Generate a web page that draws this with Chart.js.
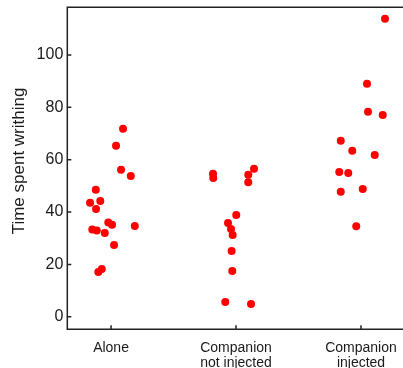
<!DOCTYPE html>
<html>
<head>
<meta charset="utf-8">
<script src="https://cdn.jsdelivr.net/npm/chart.js@4"></script>
<style>
  html, body { margin: 0; padding: 0; background: #fff; }
  #wrap { width: 403px; height: 368px; }
</style>
</head>
<body>
<div id="wrap"><canvas id="c"></canvas></div>
<script>
// Group labels (multi-line) along the x axis
const categories = [['Alone'], ['Companion', 'not injected'], ['Companion', 'injected']];
const yTitle = 'Time spent writhing';

// Jittered x position (group index + offset) and time spent writhing per animal
const aloneX = [0.096, 0.040, 0.080, 0.158, -0.122, -0.168, -0.086, -0.120, -0.022, 0.008, 0.190, -0.150, -0.114, -0.050, 0.024, -0.074, -0.102];
const aloneY = [71.8, 65.3, 56.1, 53.8, 48.5, 43.5, 44.2, 41.2, 36.0, 35.1, 34.7, 33.3, 32.9, 32.0, 27.4, 18.2, 17.1];

const notInjectedX = [0.816, 0.818, 1.144, 1.098, 1.098, 1.002, 0.936, 0.960, 0.973, 0.965, 0.970, 0.914, 1.120];
const notInjectedY = [54.6, 53.0, 56.5, 54.2, 51.4, 38.9, 35.8, 33.5, 31.2, 25.1, 17.5, 5.6, 4.9];

const injectedX = [2.192, 2.048, 2.056, 2.174, 1.838, 1.930, 2.110, 1.826, 1.898, 1.838, 2.014, 1.962];
const injectedY = [113.8, 89.0, 78.3, 77.1, 67.2, 63.4, 61.8, 55.3, 54.9, 47.7, 48.8, 34.6];

const yTicks = [0, 20, 40, 60, 80, 100];
const categoryTicks = [0, 1, 2];

const pairs = (xs, ys) => xs.map((x, i) => ({ x, y: ys[i] }));

const RED = '#ff0000';
const INK = '#1a1a1a';
const FONT = 'Liberation Sans, Arial, sans-serif';

// Axis frame (left, top, bottom) with short inward tick marks, plus the y-axis title
const framePlugin = {
  id: 'frame',
  afterDatasetsDraw(chart) {
    const { ctx, chartArea: a, scales } = chart;
    ctx.save();
    ctx.strokeStyle = '#222';
    ctx.lineWidth = 1.5;
    ctx.beginPath();
    ctx.moveTo(a.right, a.top);
    ctx.lineTo(a.left, a.top);
    ctx.lineTo(a.left, a.bottom);
    ctx.lineTo(a.right, a.bottom);
    scales.y.ticks.forEach(t => {
      const py = scales.y.getPixelForValue(t.value);
      ctx.moveTo(a.left, py);
      ctx.lineTo(a.left + 4, py);
    });
    scales.x.ticks.forEach(t => {
      const px = scales.x.getPixelForValue(t.value);
      ctx.moveTo(px, a.bottom);
      ctx.lineTo(px, a.bottom - 4);
    });
    ctx.stroke();

    // rotated y-axis title, centred a little above the middle of the value range
    const midY = scales.y.getPixelForValue(59.5);
    ctx.translate(19, midY);
    ctx.rotate(-Math.PI / 2);
    ctx.fillStyle = INK;
    ctx.font = '17px ' + FONT;
    ctx.textAlign = 'center';
    ctx.textBaseline = 'middle';
    ctx.fillText(yTitle, 0, 0);
    ctx.restore();
  }
};

const pointStyle = {
  backgroundColor: RED,
  borderWidth: 0,
  pointRadius: 4,
  pointHoverRadius: 4
};

new Chart(document.getElementById('c'), {
  type: 'scatter',
  data: {
    datasets: [
      { label: 'Alone', data: pairs(aloneX, aloneY), ...pointStyle },
      { label: 'Companion not injected', data: pairs(notInjectedX, notInjectedY), ...pointStyle },
      { label: 'Companion injected', data: pairs(injectedX, injectedY), ...pointStyle }
    ]
  },
  options: {
    responsive: true,
    maintainAspectRatio: false,
    animation: false,
    events: [],
    layout: { autoPadding: false, padding: { top: 7.3, right: 0, bottom: 0, left: 0 } },
    plugins: {
      legend: { display: false },
      tooltip: { enabled: false }
    },
    scales: {
      x: {
        type: 'linear',
        min: -0.35,
        max: 2.336,
        grid: { display: false, drawTicks: false },
        border: { display: false },
        afterBuildTicks: s => { s.ticks = categoryTicks.map(v => ({ value: v })); },
        afterFit: s => { s.height = 38.7; s.paddingLeft = 0; s.paddingRight = 0; },
        ticks: {
          autoSkip: false,
          maxRotation: 0,
          padding: 12,
          color: INK,
          font: { family: FONT, size: 14, lineHeight: 1.04 },
          callback: v => categories[v]
        }
      },
      y: {
        min: -4.8,
        max: 118.2,
        grid: { display: false, drawTicks: false },
        border: { display: false },
        afterBuildTicks: s => { s.ticks = yTicks.map(v => ({ value: v })); },
        afterFit: s => { s.width = 67.3; s.paddingTop = 0; s.paddingBottom = 0; },
        ticks: {
          padding: 4,
          color: INK,
          font: { family: FONT, size: 16 }
        }
      }
    }
  },
  plugins: [framePlugin]
});
</script>
</body>
</html>
